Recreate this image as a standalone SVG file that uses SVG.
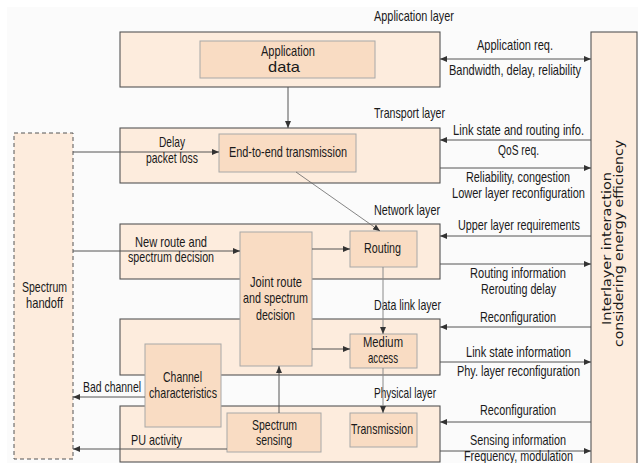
<svg xmlns="http://www.w3.org/2000/svg" width="638" height="463" viewBox="0 0 638 463">
<style>
.layer{fill:#fdecdd;stroke:#555;stroke-width:1.1}
.inner{fill:#f9dcc3;stroke:#a8a8a8;stroke-width:1}
.t{font-family:"Liberation Sans",Arial,sans-serif;font-size:14.5px;fill:#1a1a1a;text-anchor:middle}
.v{font-family:"DejaVu Sans",Verdana,sans-serif;font-size:12px;fill:#1a1a1a;text-anchor:middle}
.c{stroke:#555;stroke-width:1;fill:none}
.g{stroke:#8a8a8a;stroke-width:1;fill:none}
.d{stroke:#666;stroke-width:0.8;fill:none}
</style>
<defs>
<marker id="ah" markerUnits="userSpaceOnUse" markerWidth="8" markerHeight="6" refX="7" refY="3" orient="auto-start-reverse">
<path d="M0,0 L7,3 L0,6 z" fill="#333"/>
</marker>
</defs>
<rect x="0" y="0" width="638" height="463" fill="#ffffff"/>
<rect x="7" y="7" width="631" height="456" fill="#fbfbfb"/>

<g id="interlayer">
<rect x="591" y="32" width="46" height="440" class="layer"/>
<text class="v" transform="translate(611,248.5) rotate(-90)" textLength="153" lengthAdjust="spacingAndGlyphs">Interlayer interaction</text>
<text class="v" transform="translate(623,243.5) rotate(-90)" textLength="207" lengthAdjust="spacingAndGlyphs">considering energy efficiency</text>
</g>

<g id="spectrum-handoff">
<rect x="14" y="133" width="59" height="326" fill="#fdecdd" stroke="#555" stroke-width="1" stroke-dasharray="4,3"/>
<text class="t" x="44.5" y="292" textLength="45" lengthAdjust="spacingAndGlyphs">Spectrum</text>
<text class="t" x="44.5" y="308" textLength="37" lengthAdjust="spacingAndGlyphs">handoff</text>
</g>

<g id="application-layer">
<rect x="120" y="32" width="320" height="55" class="layer"/>
<text class="t" x="414" y="21" textLength="80" lengthAdjust="spacingAndGlyphs">Application layer</text>
</g>
<g id="application-data">
<rect x="200" y="41" width="175" height="37" class="inner"/>
<text class="t" x="288" y="56" textLength="54" lengthAdjust="spacingAndGlyphs">Application</text>
<text class="t" x="284" y="72" textLength="32" lengthAdjust="spacingAndGlyphs">data</text>
</g>

<g id="transport-layer">
<rect x="120" y="128" width="320" height="55" class="layer"/>
<text class="t" x="409.5" y="118" textLength="71" lengthAdjust="spacingAndGlyphs">Transport layer</text>
</g>
<g id="end-to-end">
<rect x="219" y="134" width="137" height="38" class="inner"/>
<text class="t" x="288" y="157" textLength="118" lengthAdjust="spacingAndGlyphs">End-to-end transmission</text>
</g>

<g id="network-layer">
<rect x="120" y="224" width="320" height="55" class="layer"/>
<text class="t" x="407" y="215" textLength="66" lengthAdjust="spacingAndGlyphs">Network layer</text>
</g>
<g id="routing">
<rect x="350" y="231" width="67" height="36" class="inner"/>
<text class="t" x="382.5" y="253" textLength="37" lengthAdjust="spacingAndGlyphs">Routing</text>
</g>

<g id="data-link-layer">
<rect x="120" y="319" width="320" height="56" class="layer"/>
<text class="t" x="407.5" y="310" textLength="67" lengthAdjust="spacingAndGlyphs">Data link layer</text>
</g>
<g id="medium-access">
<rect x="350" y="334" width="67" height="34" class="inner"/>
<text class="t" x="383" y="347" textLength="40" lengthAdjust="spacingAndGlyphs">Medium</text>
<text class="t" x="383" y="363" textLength="30" lengthAdjust="spacingAndGlyphs">access</text>
</g>

<g id="physical-layer">
<rect x="120" y="406" width="320" height="56" class="layer"/>
<text class="t" x="405" y="398" textLength="62" lengthAdjust="spacingAndGlyphs">Physical layer</text>
</g>
<g id="transmission">
<rect x="350" y="413" width="67" height="34" class="inner"/>
<text class="t" x="382" y="434" textLength="62" lengthAdjust="spacingAndGlyphs">Transmission</text>
</g>

<g id="joint-route">
<rect x="240" y="232" width="72" height="134" class="inner"/>
<text class="t" x="276" y="287" textLength="52" lengthAdjust="spacingAndGlyphs">Joint route</text>
<text class="t" x="275.5" y="303" textLength="65" lengthAdjust="spacingAndGlyphs">and spectrum</text>
<text class="t" x="275.5" y="320" textLength="39" lengthAdjust="spacingAndGlyphs">decision</text>
</g>

<g id="channel-characteristics">
<rect x="145" y="344" width="76" height="83" class="inner"/>
<text class="t" x="182.5" y="382" textLength="39" lengthAdjust="spacingAndGlyphs">Channel</text>
<text class="t" x="183" y="398" textLength="68" lengthAdjust="spacingAndGlyphs">characteristics</text>
</g>

<g id="spectrum-sensing">
<rect x="227" y="413" width="94" height="39" class="inner"/>
<text class="t" x="274.5" y="430" textLength="45" lengthAdjust="spacingAndGlyphs">Spectrum</text>
<text class="t" x="274" y="445" textLength="36" lengthAdjust="spacingAndGlyphs">sensing</text>
</g>

<g id="connectors">
<line x1="288" y1="87" x2="288" y2="128" class="c" marker-end="url(#ah)"/>
<line x1="73" y1="152" x2="219" y2="152" class="c" marker-end="url(#ah)"/>
<line x1="73" y1="251" x2="240" y2="251" class="c" marker-end="url(#ah)"/>
<line x1="312" y1="249" x2="350" y2="249" class="c" marker-end="url(#ah)"/>
<line x1="312" y1="349" x2="350" y2="349" class="c" marker-end="url(#ah)"/>
<line x1="296" y1="172" x2="380" y2="231" class="d" marker-end="url(#ah)"/>
<line x1="383" y1="267" x2="383" y2="334" class="g" marker-end="url(#ah)"/>
<line x1="383" y1="368" x2="383" y2="413" class="g" marker-end="url(#ah)"/>
<line x1="279" y1="413" x2="279" y2="366" class="c" marker-end="url(#ah)"/>
<line x1="145" y1="397" x2="73" y2="397" class="c" marker-end="url(#ah)"/>
<line x1="227" y1="449" x2="73" y2="449" class="c" marker-end="url(#ah)"/>
<line x1="440" y1="59" x2="591" y2="59" class="c" marker-start="url(#ah)" marker-end="url(#ah)"/>
<line x1="591" y1="140" x2="440" y2="140" class="c" marker-end="url(#ah)"/>
<line x1="440" y1="168" x2="591" y2="168" class="c" marker-end="url(#ah)"/>
<line x1="591" y1="236" x2="440" y2="236" class="c" marker-end="url(#ah)"/>
<line x1="440" y1="264" x2="591" y2="264" class="c" marker-end="url(#ah)"/>
<line x1="591" y1="327" x2="440" y2="327" class="c" marker-end="url(#ah)"/>
<line x1="440" y1="362" x2="591" y2="362" class="c" marker-end="url(#ah)"/>
<line x1="591" y1="422" x2="440" y2="422" class="c" marker-end="url(#ah)"/>
<line x1="440" y1="451" x2="591" y2="451" class="c" marker-end="url(#ah)"/>

<text class="t" x="172" y="147" textLength="26" lengthAdjust="spacingAndGlyphs">Delay</text>
<text class="t" x="172" y="163" textLength="52" lengthAdjust="spacingAndGlyphs">packet loss</text>
<text class="t" x="171" y="247" textLength="72" lengthAdjust="spacingAndGlyphs">New route and</text>
<text class="t" x="171" y="262" textLength="86" lengthAdjust="spacingAndGlyphs">spectrum decision</text>
<text class="t" x="112" y="392" textLength="58" lengthAdjust="spacingAndGlyphs">Bad channel</text>
<text class="t" x="156.5" y="445" textLength="51" lengthAdjust="spacingAndGlyphs">PU activity</text>

<text class="t" x="515" y="50" textLength="76" lengthAdjust="spacingAndGlyphs">Application req.</text>
<text class="t" x="515" y="75" textLength="132" lengthAdjust="spacingAndGlyphs">Bandwidth, delay, reliability</text>
<text class="t" x="518.5" y="135" textLength="131" lengthAdjust="spacingAndGlyphs">Link state and routing info.</text>
<text class="t" x="518.5" y="155" textLength="41" lengthAdjust="spacingAndGlyphs">QoS req.</text>
<text class="t" x="518" y="182" textLength="104" lengthAdjust="spacingAndGlyphs">Reliability, congestion</text>
<text class="t" x="518.5" y="198" textLength="133" lengthAdjust="spacingAndGlyphs">Lower layer reconfiguration</text>
<text class="t" x="519" y="230" textLength="122" lengthAdjust="spacingAndGlyphs">Upper layer requirements</text>
<text class="t" x="518" y="278" textLength="96" lengthAdjust="spacingAndGlyphs">Routing information</text>
<text class="t" x="518.5" y="294" textLength="75" lengthAdjust="spacingAndGlyphs">Rerouting delay</text>
<text class="t" x="518" y="322" textLength="76" lengthAdjust="spacingAndGlyphs">Reconfiguration</text>
<text class="t" x="518.5" y="357" textLength="105" lengthAdjust="spacingAndGlyphs">Link state information</text>
<text class="t" x="518.5" y="376" textLength="123" lengthAdjust="spacingAndGlyphs">Phy. layer reconfiguration</text>
<text class="t" x="518" y="415" textLength="76" lengthAdjust="spacingAndGlyphs">Reconfiguration</text>
<text class="t" x="518" y="445" textLength="96" lengthAdjust="spacingAndGlyphs">Sensing information</text>
<text class="t" x="518.5" y="461" textLength="109" lengthAdjust="spacingAndGlyphs">Frequency, modulation</text>
</g>
</svg>
